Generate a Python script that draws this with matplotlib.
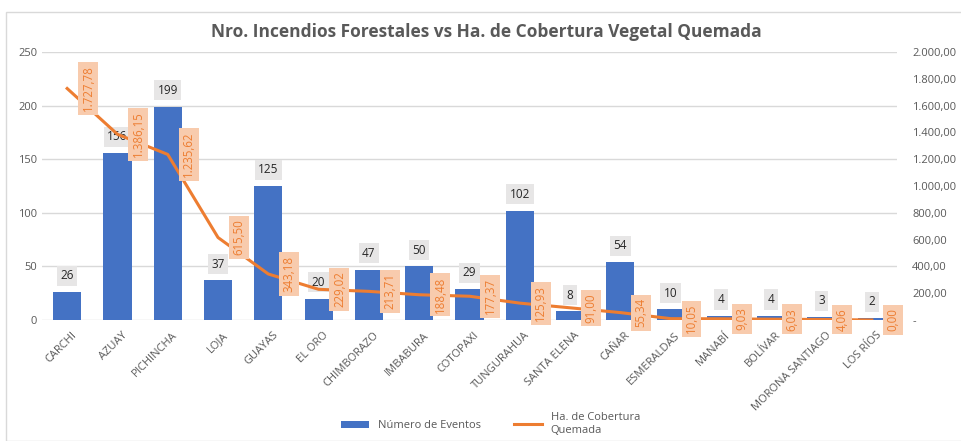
import matplotlib.pyplot as plt
from matplotlib.patches import Rectangle
from matplotlib.transforms import ScaledTranslation

provincias = ['CARCHI', 'AZUAY', 'PICHINCHA', 'LOJA', 'GUAYAS', 'EL ORO', 'CHIMBORAZO',
              'IMBABURA', 'COTOPAXI', 'TUNGURAHUA', 'SANTA ELENA', 'CAÑAR', 'ESMERALDAS',
              'MANABÍ', 'BOLÍVAR', 'MORONA SANTIAGO', 'LOS RÍOS']
eventos = [26, 156, 199, 37, 125, 20, 47, 50, 29, 102, 8, 54, 10, 4, 4, 3, 2]
hectareas = [1727.78, 1386.15, 1235.62, 615.50, 343.18, 229.02, 213.71, 188.48, 177.37,
             125.93, 91.00, 55.34, 10.05, 9.03, 6.03, 4.06, 0.00]

def fmt_es(v):
    # 1,234.56 -> 1.234,56
    return f"{v:,.2f}".replace(',', 'X').replace('.', ',').replace('X', '.')

plt.rcParams['font.family'] = ['Open Sans', 'DejaVu Sans']
gris = '#595959'

fig = plt.figure(figsize=(9.62, 4.41), dpi=100)
fig.patches.append(Rectangle((6 / 962, 0), 1, 1 - 12 / 441, transform=fig.transFigure,
                             fill=False, ec='#D9D9D9', lw=1))
ax1 = fig.add_axes([42 / 962, 1 - 320 / 441, 855 / 962, 268 / 441])
ax2 = ax1.twinx()

x = list(range(len(provincias)))
ax1.bar(x, eventos, width=0.56, color='#4472C4', label='Número de Eventos', zorder=2)
ax1.set_ylim(0, 250)
ax1.set_yticks(range(0, 251, 50))
ax1.set_xlim(-0.5, len(provincias) - 0.5)
ax1.grid(axis='y', color='#D9D9D9', lw=1, zorder=0)
ax1.set_axisbelow(True)
ax1.set_xticks(x)
ax1.set_xticklabels(provincias, rotation=45, ha='right', rotation_mode='anchor',
                    fontsize=7.5, color=gris)
ax1.tick_params(axis='both', length=0, labelsize=8, labelcolor=gris)
ax1.tick_params(axis='x', pad=7)
shift = ScaledTranslation(4 / 100, 0, fig.dpi_scale_trans)
for lbl in ax1.get_xticklabels():
    lbl.set_transform(lbl.get_transform() + shift)

for xi, v in zip(x, eventos):
    ax1.annotate(str(v), (xi, v), xytext=(0, 7), textcoords='offset points',
                 ha='center', va='bottom', fontsize=8.5, color='#262626',
                 bbox=dict(boxstyle='square,pad=0.3', fc='#E7E6E6', ec='none'))

ax2.plot(x, hectareas, color='#ED7D31', lw=2.2, label='Ha. de Cobertura\nQuemada')
ax2.set_ylim(0, 2000)
ax2.set_yticks(range(0, 2001, 200))
ax2.set_yticklabels(['-'] + [fmt_es(t) for t in range(200, 2001, 200)])
ax2.tick_params(axis='y', length=0, labelsize=8, labelcolor=gris, pad=11)

for xi, v in zip(x, hectareas):
    ax2.annotate(fmt_es(v), (xi, v), xytext=(15, 0), textcoords='offset points',
                 ha='center', va='center', rotation=90, fontsize=8.3, color='#ED7D31',
                 bbox=dict(boxstyle='square,pad=0.3', fc='#F8CBAD', ec='none'))

for ax in (ax1, ax2):
    for s in ax.spines.values():
        s.set_visible(False)

fig.text(0.506, 1 - 32 / 441, 'Nro. Incendios Forestales vs Ha. de Cobertura Vegetal Quemada',
         ha='center', va='center', fontsize=12.5, fontweight='bold', color=gris)

h1, l1 = ax1.get_legend_handles_labels()
h2, l2 = ax2.get_legend_handles_labels()
fig.legend(h1 + h2, l1 + l2, loc='center', bbox_to_anchor=(0.51, 1 - 424 / 441), ncol=2,
           frameon=False, fontsize=8, labelcolor=gris, handlelength=2.5,
           handleheight=0.6, columnspacing=3)

fig.savefig('out.png', dpi=100)
